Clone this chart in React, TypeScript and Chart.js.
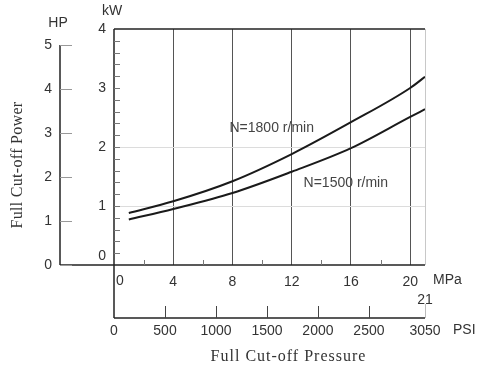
import React, { useEffect, useRef } from "react";
import { Chart, registerables } from "chart.js";
Chart.register(...registerables);

// ---- data ----
const pressureMPa = [1, 4, 8, 12, 16, 20, 21];
const power1800 = [0.88, 1.08, 1.42, 1.88, 2.42, 3.0, 3.19];
const power1500 = [0.77, 0.95, 1.22, 1.58, 1.98, 2.51, 2.64];
const seriesLabels = ["N=1800 r/min", "N=1500 r/min"];
const labelAtMPa = [7.8, 12.8];
const labelAtKW = [2.32, 1.39];

const mpaTicks = [0, 4, 8, 12, 16, 20, 21];
const mpaMinorTicks = [2, 6, 10, 14, 18];
const kwTicks = [0, 1, 2, 3, 4];
const kwGridValues = [1, 2];
const hpTicks = [0, 1, 2, 3, 4, 5];
const psiTicks = [0, 500, 1000, 1500, 2000, 2500, 3050];

const KW_MAX = 4;
const KW_PER_HP = 0.7457;
const MPA_MAX = 21;
const PSI_MAX = 3050;
const KW_MINOR_STEP = 0.2;

const SANS = "'Liberation Sans', Arial, sans-serif";
const SERIF = "'Liberation Serif', 'Times New Roman', serif";

const decor = {
  id: "decor",
  afterDraw(chart: any) {
    const { ctx, chartArea: ca, scales } = chart;
    const x = scales.x, y = scales.y, hp = scales.hp, psi = scales.psi;
    const line = (x1: number, y1: number, x2: number, y2: number) => {
      ctx.beginPath();
      ctx.moveTo(x1, y1);
      ctx.lineTo(x2, y2);
      ctx.stroke();
    };
    ctx.save();
    ctx.strokeStyle = "#222";
    ctx.lineWidth = 1.5;
    // frame / axes
    line(ca.left, ca.top, ca.right, ca.top);
    line(ca.left, ca.top, ca.left, psi.top);
    line(hp.right, hp.getPixelForValue(hpTicks[hpTicks.length - 1]), hp.right, ca.bottom);
    line(hp.right, ca.bottom, ca.right, ca.bottom);
    line(ca.left, psi.top, ca.right, psi.top);

    // kW minor ticks
    ctx.lineWidth = 1;
    ctx.strokeStyle = "#777";
    for (let v = KW_MINOR_STEP; v < KW_MAX - 1e-6; v += KW_MINOR_STEP) {
      const py = Math.round(y.getPixelForValue(v)) + 0.5;
      line(ca.left, py, ca.left + 6, py);
    }
    // HP ticks
    ctx.strokeStyle = "#999";
    hpTicks.forEach((v) => {
      const py = Math.round(hp.getPixelForValue(v)) + 0.5;
      line(hp.right, py, hp.right + 12, py);
    });
    // MPa minor ticks
    ctx.strokeStyle = "#777";
    mpaMinorTicks.forEach((v) => {
      const px = Math.round(x.getPixelForValue(v)) + 0.5;
      line(px, ca.bottom - 5, px, ca.bottom);
    });
    // PSI ticks
    ctx.strokeStyle = "#444";
    psiTicks.slice(1, -1).forEach((v) => {
      const px = Math.round(psi.getPixelForValue(v)) + 0.5;
      line(px, psi.top - 12, px, psi.top);
    });
    ctx.strokeStyle = "#bbb";
    {
      const px = Math.round(psi.getPixelForValue(PSI_MAX)) + 0.5;
      line(px, psi.top - 14, px, psi.top);
    }

    // texts
    ctx.fillStyle = "#333";
    ctx.font = `14px ${SANS}`;
    ctx.textBaseline = "middle";
    ctx.textAlign = "center";
    ctx.fillText("kW", ca.left - 2, ca.top - 18);
    ctx.fillText("HP", hp.right - 2, hp.getPixelForValue(hpTicks[hpTicks.length - 1]) - 22);
    // zero labels of kW and MPa axes, set off from the axis corner
    ctx.textAlign = "right";
    ctx.fillText(String(kwTicks[0]), ca.left - 8, y.getPixelForValue(kwTicks[0]) - 9);
    ctx.textAlign = "center";
    ctx.fillText(String(mpaTicks[0]), x.getPixelForValue(mpaTicks[0]) + 6, ca.bottom + 16);
    ctx.textAlign = "left";
    ctx.fillText("MPa", ca.right + 8, ca.bottom + 15);
    ctx.fillText("PSI", ca.right + 28, psi.top + 12);

    // series labels
    ctx.fillStyle = "#444";
    ctx.font = `14px ${SANS}`;
    seriesLabels.forEach((t, i) => {
      ctx.fillText(t, x.getPixelForValue(labelAtMPa[i]), y.getPixelForValue(labelAtKW[i]));
    });

    // titles
    ctx.fillStyle = "#333";
    ctx.font = `16px ${SERIF}`;
    ctx.textAlign = "center";
    (ctx as any).letterSpacing = "1px";
    ctx.fillText("Full Cut-off Pressure", (ca.left + ca.right) / 2 + 19, psi.bottom - 13);
    (ctx as any).letterSpacing = "0.3px";
    ctx.save();
    ctx.translate(18, (ca.top + ca.bottom) / 2 + 18);
    ctx.rotate(-Math.PI / 2);
    ctx.fillText("Full Cut-off Power", 0, 0);
    ctx.restore();
    (ctx as any).letterSpacing = "0px";

    ctx.restore();
  },
};

export default function App() {
  const ref = useRef<HTMLCanvasElement>(null);
  useEffect(() => {
    if (!ref.current) return;
    const chart = new Chart(ref.current, {
      type: "line",
      data: {
        datasets: [
          {
            label: seriesLabels[0],
            data: pressureMPa.map((p, i) => ({ x: p, y: power1800[i] })),
            borderColor: "#1a1a1a",
            borderWidth: 2,
            pointRadius: 0,
            cubicInterpolationMode: "monotone",
            xAxisID: "x",
            yAxisID: "y",
          },
          {
            label: seriesLabels[1],
            data: pressureMPa.map((p, i) => ({ x: p, y: power1500[i] })),
            borderColor: "#1a1a1a",
            borderWidth: 2,
            pointRadius: 0,
            cubicInterpolationMode: "monotone",
            xAxisID: "x",
            yAxisID: "y",
          },
        ],
      },
      options: {
        animation: false,
        responsive: false,
        layout: { padding: { top: 29, right: 57, left: 0, bottom: 0 } },
        plugins: { legend: { display: false }, tooltip: { enabled: false } },
        scales: {
          x: {
            type: "linear",
            position: "bottom",
            weight: 0,
            min: 0,
            max: MPA_MAX,
            afterBuildTicks: (s: any) => {
              s.ticks = mpaTicks.map((v) => ({ value: v }));
            },
            afterFit: (s: any) => {
              s.height = 53;
            },
            border: { display: false },
            grid: {
              drawTicks: false,
              lineWidth: 1,
              color: (c: any) =>
                c.tick && c.tick.value === 0
                  ? "rgba(0,0,0,0)"
                  : c.tick && c.tick.value === MPA_MAX
                  ? "#c8c8c8"
                  : "#555",
            },
            ticks: {
              autoSkip: false,
              maxRotation: 0,
              minRotation: 0,
              padding: 8,
              color: "#333",
              font: { family: SANS, size: 14, lineHeight: 1.3 },
              callback: (v: any) =>
                v === mpaTicks[0] ? "" : v === MPA_MAX ? ["", String(v)] : String(v),
            },
          },
          psi: {
            type: "linear",
            position: "bottom",
            weight: 1,
            min: 0,
            max: PSI_MAX,
            afterBuildTicks: (s: any) => {
              s.ticks = psiTicks.map((v) => ({ value: v }));
            },
            afterFit: (s: any) => {
              s.height = 52;
            },
            border: { display: false },
            grid: { display: false, drawTicks: false },
            ticks: {
              autoSkip: false,
              maxRotation: 0,
              minRotation: 0,
              padding: 5,
              color: "#333",
              font: { family: SANS, size: 14 },
              callback: (v: any) => String(v),
            },
          },
          y: {
            type: "linear",
            position: "left",
            weight: 0,
            min: 0,
            max: KW_MAX,
            afterBuildTicks: (s: any) => {
              s.ticks = kwTicks.map((v) => ({ value: v }));
            },
            afterFit: (s: any) => {
              s.width = 54;
            },
            border: { display: false },
            grid: {
              drawTicks: false,
              color: (c: any) =>
                c.tick && kwGridValues.includes(c.tick.value) ? "#dcdcdc" : "rgba(0,0,0,0)",
            },
            ticks: {
              padding: 8,
              color: "#333",
              font: { family: SANS, size: 14 },
              callback: (v: any) => (v === kwTicks[0] ? "" : String(v)),
            },
          },
          hp: {
            type: "linear",
            position: "left",
            weight: 1,
            min: 0,
            max: KW_MAX / KW_PER_HP,
            afterBuildTicks: (s: any) => {
              s.ticks = hpTicks.map((v) => ({ value: v }));
            },
            afterFit: (s: any) => {
              s.width = 60;
            },
            border: { display: false },
            grid: { display: false, drawTicks: false },
            ticks: {
              padding: 8,
              color: "#333",
              font: { family: SANS, size: 14 },
              callback: (v: any) => String(v),
            },
          },
        },
      } as any,
      plugins: [decor],
    });
    return () => chart.destroy();
  }, []);
  return (
    <canvas
      ref={ref}
      width={482}
      height={370}
      style={{ display: "block", position: "absolute", left: 0, top: 0, width: 482, height: 370 }}
    />
  );
}
